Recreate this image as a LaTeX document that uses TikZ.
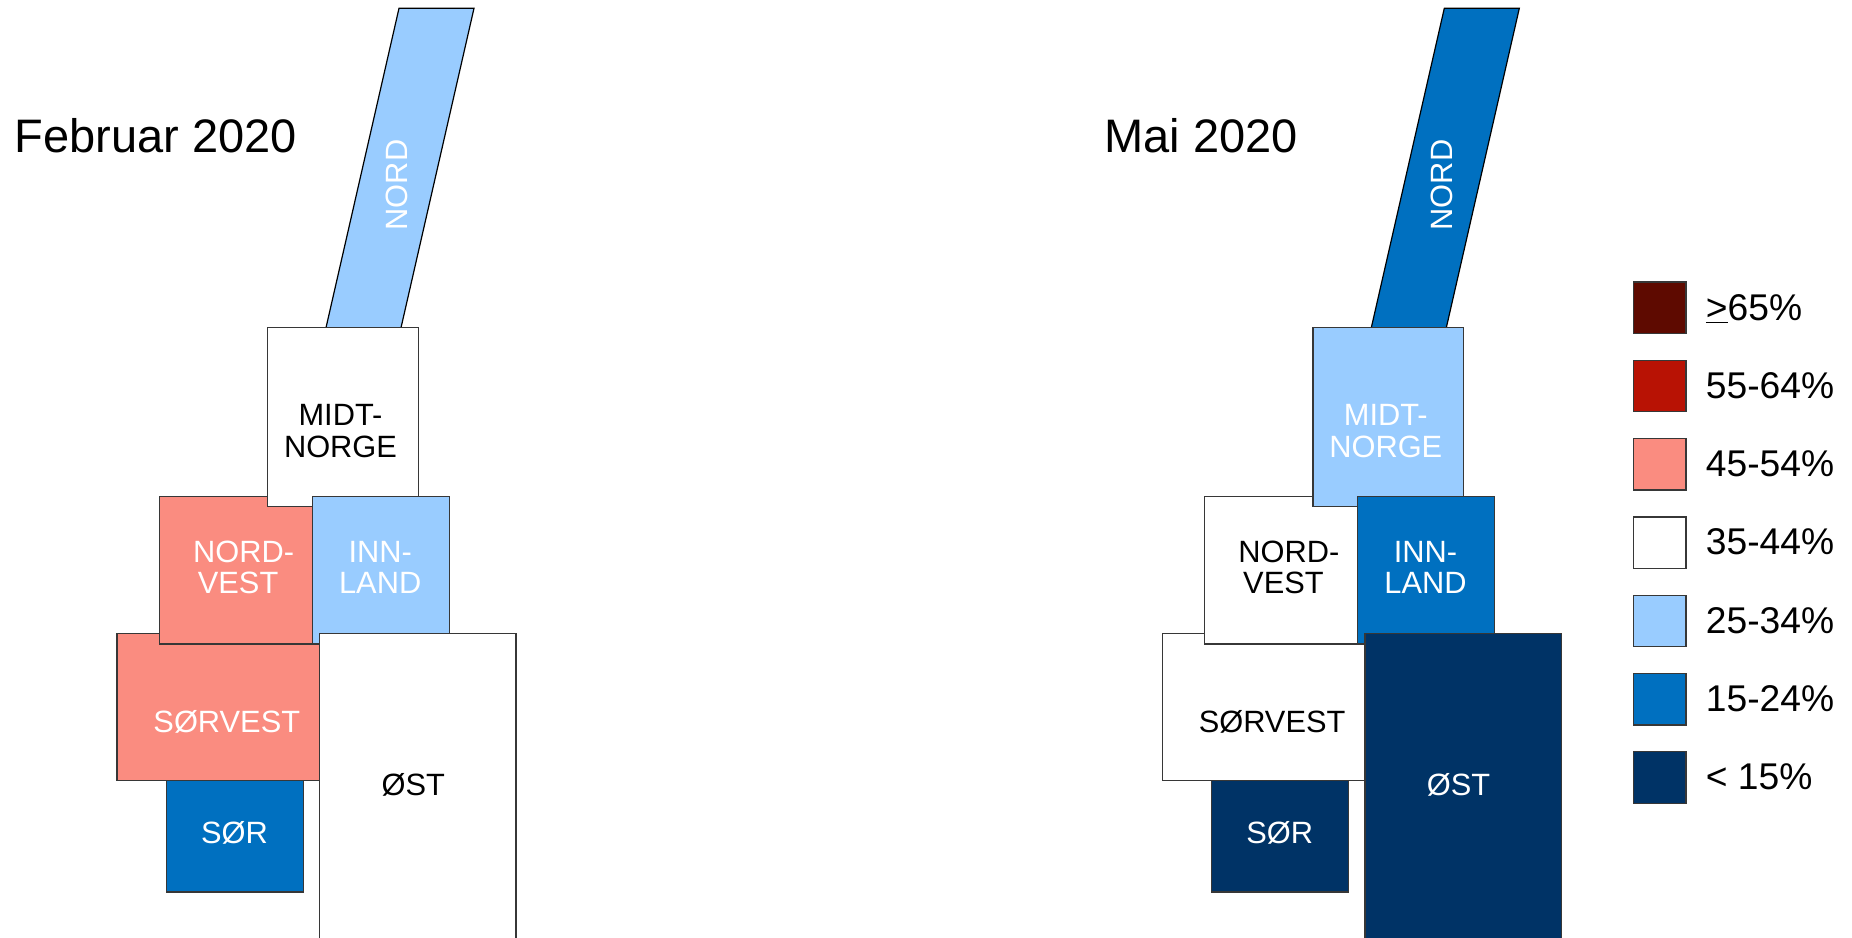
\documentclass[tikz,border=0pt]{standalone}
\usepackage{fontspec}
\setmainfont{Liberation Sans}
\definecolor{lblue}{RGB}{153,204,255}
\definecolor{mblue}{RGB}{0,112,192}
\definecolor{navy}{RGB}{0,51,102}
\definecolor{salmon}{RGB}{250,140,128}
\definecolor{dred}{RGB}{94,10,0}
\definecolor{rred}{RGB}{184,18,4}
\definecolor{edgec}{RGB}{55,55,55}
\begin{document}
\begin{tikzpicture}[x=0.5pt,y=-0.5pt,
  region/.style={draw=edgec,line width=0.6pt},
  lab/.style={font=\fontsize{15.4}{15.75}\selectfont,inner sep=0pt},
  title/.style={font=\fontsize{23.5}{27}\selectfont,inner sep=0pt,anchor=base west},
  legbox/.style={draw=edgec,line width=0.6pt},
  legtxt/.style={font=\fontsize{18.6}{21}\selectfont,inner sep=0pt,anchor=base west}]
\useasboundingbox (0,0) rectangle (1852,937);
\clip (0,0) rectangle (1852,937);

% titles
\node[title] (tFeb) at (14.3,152.7) {Februar 2020};
\node[title] (tMai) at (1104,152.7) {Mai 2020};

% ---------- Februar 2020 ----------
\begin{scope}
\filldraw[region,fill=salmon] (117,633.5) rectangle (320,780.3);
\filldraw[region,fill=mblue] (166.3,780.3) rectangle (303.3,892);
\filldraw[region,fill=lblue,draw=black] (399,8.3) -- (474,8.3) -- (401,327.7) -- (326,327.7) -- cycle;
\filldraw[region,fill=salmon] (159.3,496.7) rectangle (312.3,644);
\filldraw[region,fill=white] (267.7,327.7) rectangle (418.3,506.7);
\filldraw[region,fill=lblue] (312.3,496.7) rectangle (449.3,644);
\filldraw[region,fill=white] (319.7,633.7) rectangle (516,960);
\node[lab,text=white,rotate=90] (fNord) at (396.7,185) {NORD};
\node[lab,align=center] (fMidt) at (340.5,430.8) {MIDT-\\NORGE};
\node[lab,align=left,anchor=west,text=white] (fNV) at (192.7,567.3) {NORD-\\\kern2.4pt VEST};
\node[lab,align=center,text=white] (fInn) at (380.2,567.3) {INN-\\LAND};
\node[lab,anchor=base,text=white] (fSV) at (226.8,732.3) {SØRVEST};
\node[lab,anchor=base,text=white] (fSor) at (234.5,843.3) {SØR};
\node[lab,anchor=base] (fOst) at (413.3,795) {ØST};
\end{scope}

% ---------- Mai 2020 ----------
\begin{scope}[shift={(1045.3,0)}]
\filldraw[region,fill=white] (117,633.5) rectangle (320,780.3);
\filldraw[region,fill=navy] (166.3,780.3) rectangle (303.3,892);
\filldraw[region,fill=mblue,draw=black] (399,8.3) -- (474,8.3) -- (401,327.7) -- (326,327.7) -- cycle;
\filldraw[region,fill=white] (159.3,496.7) rectangle (312.3,644);
\filldraw[region,fill=lblue] (267.7,327.7) rectangle (418.3,506.7);
\filldraw[region,fill=mblue] (312.3,496.7) rectangle (449.3,644);
\filldraw[region,fill=navy] (319.7,633.7) rectangle (516,960);
\node[lab,text=white,rotate=90] (mNord) at (396.7,185) {NORD};
\node[lab,align=center,text=white] (mMidt) at (340.5,430.8) {MIDT-\\NORGE};
\node[lab,align=left,anchor=west] (mNV) at (192.7,567.3) {NORD-\\\kern2.4pt VEST};
\node[lab,align=center,text=white] (mInn) at (380.2,567.3) {INN-\\LAND};
\node[lab,anchor=base] (mSV) at (226.8,732.3) {SØRVEST};
\node[lab,anchor=base,text=white] (mSor) at (234.5,843.3) {SØR};
\node[lab,anchor=base,text=white] (mOst) at (413.3,795) {ØST};
\end{scope}

% ---------- legend ----------
\foreach \i/\c/\t in {0/dred/{\underline{>}65\%},1/rred/{55-64\%},2/salmon/{45-54\%},3/white/{35-44\%},4/lblue/{25-34\%},5/mblue/{15-24\%},6/navy/{< 15\%}}{
  \filldraw[legbox,fill=\c] (1633.5,{282+78.3*\i}) rectangle (1686,{333.4+78.3*\i});
  \node[legtxt] (leg\i) at (1705.5,{320+78.3*\i}) {\t};
}
\end{tikzpicture}
\end{document}
